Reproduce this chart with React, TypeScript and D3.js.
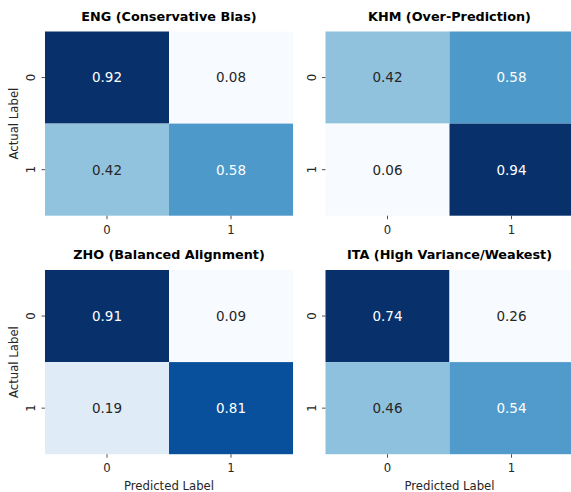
import React from "react";
import * as d3 from "d3";

const titles = [
  "ENG (Conservative Bias)",
  "KHM (Over-Prediction)",
  "ZHO (Balanced Alignment)",
  "ITA (High Variance/Weakest)",
];
const engValues = [[0.92, 0.08], [0.42, 0.58]];
const khmValues = [[0.42, 0.58], [0.06, 0.94]];
const zhoValues = [[0.91, 0.09], [0.19, 0.81]];
const itaValues = [[0.74, 0.26], [0.46, 0.54]];
const matrices = [engValues, khmValues, zhoValues, itaValues];
const classLabels = ["0", "1"];
const xAxisLabel = "Predicted Label";
const yAxisLabel = "Actual Label";

const BLUES = ["#f7fbff", "#deebf7", "#c6dbef", "#9ecae1", "#6baed6", "#4292c6", "#2171b5", "#08519c", "#08306b"];
const bluesScale = d3
  .scaleLinear<string>()
  .domain(BLUES.map((_, i) => i / (BLUES.length - 1)))
  .range(BLUES)
  .interpolate(d3.interpolateRgb);

const W = 571;
const H = 492;
const FONT = "DejaVu Sans";
const panelW = 248;
const panelH = 184.2;
const lefts = [45, 325.5];
const tops = [31.5, 270];

function luminance(c: string) {
  const rgb = d3.rgb(c);
  const f = (v: number) => {
    const s = v / 255;
    return s <= 0.03928 ? s / 12.92 : Math.pow((s + 0.055) / 1.055, 2.4);
  };
  return 0.2126 * f(rgb.r) + 0.7152 * f(rgb.g) + 0.0722 * f(rgb.b);
}

function Panel({ idx }: { idx: number }) {
  const col = idx % 2;
  const row = Math.floor(idx / 2);
  const x0 = lefts[col];
  const y0 = tops[row];
  const data = matrices[idx];
  const flat = data.flat();
  const vmin = d3.min(flat)!;
  const vmax = d3.max(flat)!;
  const norm = d3.scaleLinear().domain([vmin, vmax]).range([0, 1]);
  const xs = d3.scaleBand().domain(classLabels).range([0, panelW]);
  const ys = d3.scaleBand().domain(classLabels).range([0, panelH]);
  const cells: any[] = [];
  data.forEach((r, i) =>
    r.forEach((v, j) => {
      cells.push({ i, j, v });
    })
  );
  return (
    <g transform={`translate(${x0},${y0})`}>
      {cells.map((c) => {
        const fill = bluesScale(norm(c.v));
        const txt = luminance(fill) > 0.408 ? "#262626" : "#ffffff";
        const cx = xs(classLabels[c.j])! + xs.bandwidth() / 2;
        const cy = ys(classLabels[c.i])! + ys.bandwidth() / 2;
        return (
          <g key={`${c.i}-${c.j}`}>
            <rect
              x={xs(classLabels[c.j])}
              y={ys(classLabels[c.i])}
              width={xs.bandwidth()}
              height={ys.bandwidth()}
              fill={fill}
            />
            <text
              x={cx}
              y={cy}
              dy="0.36em"
              textAnchor="middle"
              fontFamily={FONT}
              fontSize={13.5}
              fill={txt}
            >
              {c.v.toFixed(2)}
            </text>
          </g>
        );
      })}
      {classLabels.map((l) => {
        const cx = xs(l)! + xs.bandwidth() / 2;
        return (
          <g key={"x" + l}>
            <line x1={cx} x2={cx} y1={panelH} y2={panelH + 3.5} stroke="#262626" strokeWidth={0.8} />
            <text x={cx} y={panelH + 18} textAnchor="middle" fontFamily={FONT} fontSize={11.7} fill="#262626">
              {l}
            </text>
          </g>
        );
      })}
      {classLabels.map((l) => {
        const cy = ys(l)! + ys.bandwidth() / 2;
        return (
          <g key={"y" + l}>
            <line x1={-3.5} x2={0} y1={cy} y2={cy} stroke="#262626" strokeWidth={0.8} />
            <text
              transform={`translate(${-10},${cy}) rotate(-90)`}
              textAnchor="middle"
              fontFamily={FONT}
              fontSize={11.7}
              fill="#262626"
            >
              {l}
            </text>
          </g>
        );
      })}
      <text
        x={panelW / 2}
        y={-10.8}
        textAnchor="middle"
        fontFamily={FONT}
        fontWeight="bold"
        fontSize={12.8}
        fill="#000"
      >
        {titles[idx]}
      </text>
      {col === 0 && (
        <text
          transform={`translate(${17.5 - x0},${panelH / 2}) rotate(-90)`}
          textAnchor="middle"
          fontFamily={FONT}
          fontSize={11.7}
          fill="#262626"
        >
          {yAxisLabel}
        </text>
      )}
      {row === 1 && (
        <text x={panelW / 2} y={490 - y0} textAnchor="middle" fontFamily={FONT} fontSize={11.7} fill="#262626">
          {xAxisLabel}
        </text>
      )}
    </g>
  );
}

export default function App() {
  return (
    <svg
      width={W}
      height={H}
      style={{ position: "absolute", left: 0, top: 0, background: "#fff" }}
    >
      <rect width={W} height={H} fill="#fff" />
      {matrices.map((_, i) => (
        <Panel key={i} idx={i} />
      ))}
    </svg>
  );
}
